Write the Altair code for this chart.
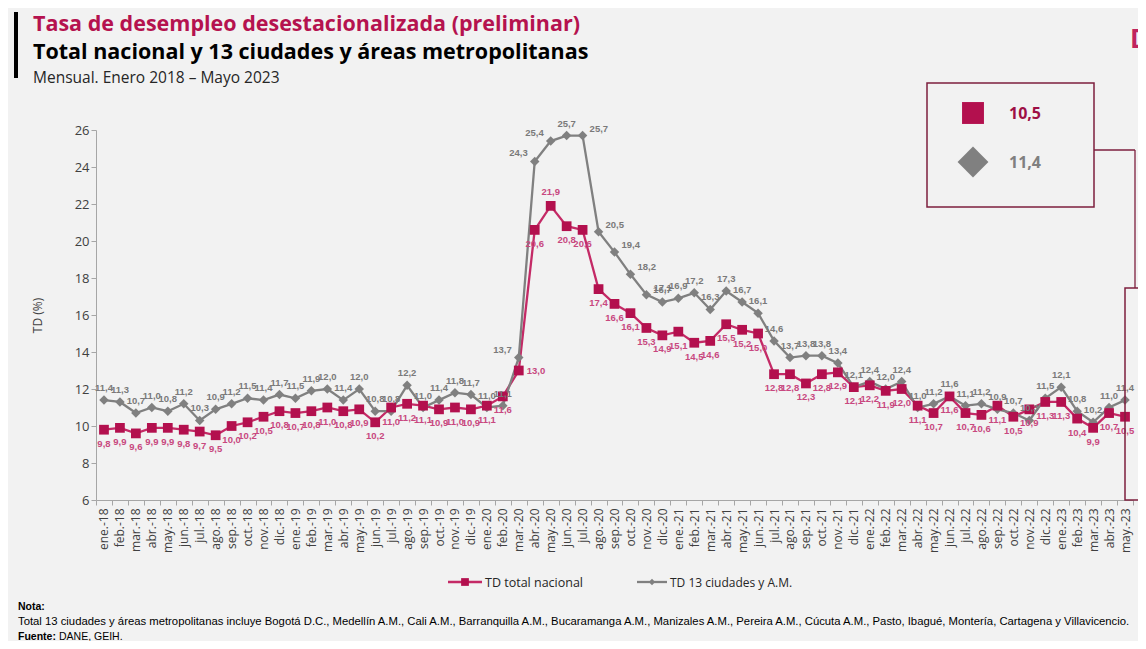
import altair as alt
import pandas as pd

# ---------------- data ----------------
meses = [
    "ene.-18", "feb.-18", "mar.-18", "abr.-18", "may.-18", "jun.-18", "jul.-18", "ago.-18", "sep.-18", "oct.-18", "nov.-18", "dic.-18",
    "ene.-19", "feb.-19", "mar.-19", "abr.-19", "may.-19", "jun.-19", "jul.-19", "ago.-19", "sep.-19", "oct.-19", "nov.-19", "dic.-19",
    "ene.-20", "feb.-20", "mar.-20", "abr.-20", "may.-20", "jun.-20", "jul.-20", "ago.-20", "sep.-20", "oct.-20", "nov.-20", "dic.-20",
    "ene.-21", "feb.-21", "mar.-21", "abr.-21", "may.-21", "jun.-21", "jul.-21", "ago.-21", "sep.-21", "oct.-21", "nov.-21", "dic.-21",
    "ene.-22", "feb.-22", "mar.-22", "abr.-22", "may.-22", "jun.-22", "jul.-22", "ago.-22", "sep.-22", "oct.-22", "nov.-22", "dic.-22",
    "ene.-23", "feb.-23", "mar.-23", "abr.-23", "may.-23",
]

nacional = [
    9.8, 9.9, 9.6, 9.9, 9.9, 9.8, 9.7, 9.5, 10.0, 10.2, 10.5, 10.8,
    10.7, 10.8, 11.0, 10.8, 10.9, 10.2, 11.0, 11.2, 11.1, 10.9, 11.0, 10.9,
    11.1, 11.6, 13.0, 20.6, 21.9, 20.8, 20.6, 17.4, 16.6, 16.1, 15.3, 14.9,
    15.1, 14.5, 14.6, 15.5, 15.2, 15.0, 12.8, 12.8, 12.3, 12.8, 12.9, 12.1,
    12.2, 11.9, 12.0, 11.1, 10.7, 11.6, 10.7, 10.6, 11.1, 10.5, 10.9, 11.3,
    11.3, 10.4, 9.9, 10.7, 10.5,
]

ciudades = [
    11.4, 11.3, 10.7, 11.0, 10.8, 11.2, 10.3, 10.9, 11.2, 11.5, 11.4, 11.7,
    11.5, 11.9, 12.0, 11.4, 12.0, 10.8, 10.8, 12.2, 11.0, 11.4, 11.8, 11.7,
    11.0, 11.1, 13.7, 24.3, 25.4, 25.7, 25.7, 20.5, 19.4, 18.2, 17.1, 16.7,
    16.9, 17.2, 16.3, 17.3, 16.7, 16.1, 14.6, 13.7, 13.8, 13.8, 13.4, 12.1,
    12.4, 12.0, 12.4, 11.0, 11.2, 11.6, 11.1, 11.2, 10.9, 10.7, 10.3, 11.5,
    12.1, 10.8, 10.2, 11.0, 11.4,
]

y_ticks = [6, 8, 10, 12, 14, 16, 18, 20, 22, 24, 26]

series = ["TD total nacional", "TD 13 ciudades y A.M."]
ultimo = ["10,5", "11,4"]

# label placement exceptions (style only)
rojo_arriba = ["may.-20"]
rojo_derecha = ["mar.-20"]
gris_derecha = ["jul.-20", "ago.-20", "sep.-20", "oct.-20", "nov.-20"]
gris_izquierda = ["mar.-20", "abr.-20", "may.-20"]

titulo = "Tasa de desempleo desestacionalizada (preliminar)"
subtitulo = "Total nacional y 13 ciudades y áreas metropolitanas"
periodo = "Mensual. Enero 2018 – Mayo 2023"
nota_t = "Nota"
nota = ("Total 13 ciudades y áreas metropolitanas incluye Bogotá D.C., Medellín A.M., Cali A.M., Barranquilla A.M., "
        "Bucaramanga A.M., Manizales A.M., Pereira A.M., Cúcuta A.M., Pasto, Ibagué, Montería, Cartagena y Villavicencio.")
fuente_t = "Fuente:"
fuente = "DANE, GEIH."

# ---------------- style ----------------
ROJO = "#b3104e"
ROJO_LINEA = "#c42a66"
ROJO_TXT = "#c8487f"
GRIS = "#808080"
GRIS_TXT = "#7a7a7a"
BORDE = "#7d1f3e"
FONT = "Open Sans"
FONT_N = "Liberation Sans"


def fmt(v):
    return f"{v:.1f}".replace(".", ",")


rows = []
for i, m in enumerate(meses):
    pr = "arriba" if m in rojo_arriba else ("derecha" if m in rojo_derecha else "abajo")
    rows.append(dict(mes=m, serie=series[0], valor=nacional[i], etiqueta=fmt(nacional[i]), pos=pr))
    pg = "derecha" if m in gris_derecha else ("izquierda" if m in gris_izquierda else "arriba")
    rows.append(dict(mes=m, serie=series[1], valor=ciudades[i], etiqueta=fmt(ciudades[i]), pos=pg))
df = pd.DataFrame(rows)

W, H = 1037, 370

x_enc = alt.X(
    "mes:N", sort=meses,
    scale=alt.Scale(type="band", paddingInner=0, paddingOuter=0),
    bandPosition=0.5,
    axis=alt.Axis(title=None, labelAngle=-90, tickBand="extent", labelFontSize=12, labelFont=FONT,
                  labelColor="#404040", domainColor="#a6a6a6", tickColor="#a6a6a6", tickSize=5,
                  labelPadding=3, grid=False, labelOverlap=False),
)
y_enc = alt.Y(
    "valor:Q",
    scale=alt.Scale(domain=[6, 26], nice=False, zero=False),
    axis=alt.Axis(values=y_ticks, title="TD (%)", titleFontSize=12, titleFontWeight="normal",
                  titleFont=FONT, titleColor="#404040", titlePadding=30, labelFontSize=13, labelFont=FONT,
                  labelColor="#404040", domainColor="#a6a6a6", tickColor="#a6a6a6", tickSize=5, grid=False,
                  labelOverlap=False, labelFlush=False, labelBound=False),
)
color_enc = alt.Color("serie:N", scale=alt.Scale(domain=series, range=[ROJO_LINEA, GRIS]), legend=None)

base = alt.Chart(df)

lineas = base.mark_line(strokeWidth=2.3).encode(x=x_enc, y=y_enc, color=color_enc)

pts_rojo = base.transform_filter(alt.datum.serie == series[0]).mark_point(
    shape="square", filled=True, size=95, color=ROJO, opacity=1
).encode(x=x_enc, y=y_enc)

pts_gris = base.transform_filter(alt.datum.serie == series[1]).mark_point(
    shape="diamond", filled=True, size=90, color=GRIS, opacity=1
).encode(x=x_enc, y=y_enc)

etq_specs = [
    (series[0], "abajo", 0, 14, "center", ROJO_TXT),
    (series[0], "arriba", 0, -14, "center", ROJO_TXT),
    (series[0], "derecha", 8, 0, "left", ROJO_TXT),
    (series[1], "arriba", 0, -12, "center", GRIS_TXT),
    (series[1], "derecha", 7, -7, "left", GRIS_TXT),
    (series[1], "izquierda", -7, -8, "right", GRIS_TXT),
]
etiquetas = []
for s, p, dx, dy, al, col in etq_specs:
    etiquetas.append(
        base.transform_filter((alt.datum.serie == s) & (alt.datum.pos == p))
        .mark_text(dx=dx, dy=dy, align=al, baseline="middle", fontSize=9.5, fontWeight="bold",
                   font=FONT_N, color=col)
        .encode(x=x_enc, y=y_enc, text="etiqueta:N")
    )

one = pd.DataFrame({"k": [0]})


def txt(text, x, y, size, color, weight="normal", font=FONT, align="left"):
    return alt.Chart(one).mark_text(
        text=text, align=align, baseline="alphabetic", fontSize=size, fontWeight=weight, font=font, color=color
    ).encode(x=alt.value(x), y=alt.value(y))


# header
barra = alt.Chart(one).mark_rule(color="#000000", strokeWidth=4).encode(
    x=alt.value(-80), y=alt.value(-118), y2=alt.value(-52))
t1 = txt(titulo, -63, -99, 21.5, "#b5124f", "bold")
t2 = txt(subtitulo, -63, -71, 21.5, "#000000", "bold")
t3 = txt(periodo, -63, -47, 15.5, "#262626")
logo = txt("D", 1034, -82, 26, "#c0245e", "bold")

# callout
caja = alt.Chart(one).mark_rect(fill="#f2f2f2", fillOpacity=0, stroke=BORDE, strokeWidth=1.5).encode(
    x=alt.value(831), x2=alt.value(998), y=alt.value(-47), y2=alt.value(77))
con_h = alt.Chart(one).mark_rule(color=BORDE, strokeWidth=1.3).encode(
    x=alt.value(998), x2=alt.value(1039), y=alt.value(20))
con_v = alt.Chart(one).mark_rule(color=BORDE, strokeWidth=1.3).encode(
    x=alt.value(1039), y=alt.value(20), y2=alt.value(158))
caja2 = alt.Chart(one).mark_rect(fillOpacity=0, stroke=BORDE, strokeWidth=1.5).encode(
    x=alt.value(1029), x2=alt.value(1080), y=alt.value(158), y2=alt.value(370))
sq = alt.Chart(one).mark_point(shape="square", filled=True, size=480, color=ROJO, opacity=1).encode(
    x=alt.value(877), y=alt.value(-17))
dm = alt.Chart(one).mark_point(shape="diamond", filled=True, size=950, color=GRIS, opacity=1).encode(
    x=alt.value(877), y=alt.value(32))
v1 = txt(ultimo[0], 913, -11, 16, "#9e0f45", "bold")
v2 = txt(ultimo[1], 913, 38, 16, GRIS, "bold")

# legend
lg_r_line = alt.Chart(one).mark_rule(color=ROJO_LINEA, strokeWidth=2.3).encode(
    x=alt.value(352), x2=alt.value(386), y=alt.value(452))
lg_r_pt = alt.Chart(one).mark_point(shape="square", filled=True, size=60, color=ROJO, opacity=1).encode(
    x=alt.value(369), y=alt.value(452))
lg_r_t = txt(series[0], 389, 457, 12.5, "#262626")
lg_g_line = alt.Chart(one).mark_rule(color=GRIS, strokeWidth=2.3).encode(
    x=alt.value(541), x2=alt.value(571), y=alt.value(452))
lg_g_pt = alt.Chart(one).mark_point(shape="diamond", filled=True, size=40, color=GRIS, opacity=1).encode(
    x=alt.value(556), y=alt.value(452))
lg_g_t = txt(series[1], 574, 457, 12, "#262626")

# notes
n1 = txt(nota_t + ":", -78, 480, 10.5, "#000000", "bold", FONT_N)
n2 = txt(nota, -78, 495, 11.3, "#000000", "normal", FONT_N)
n3 = txt(fuente_t, -78, 510, 10.5, "#000000", "bold", FONT_N)
n4 = txt(fuente, -37, 510, 10.5, "#000000", "normal", FONT_N)

chart = alt.layer(
    lineas, pts_gris, pts_rojo, *etiquetas,
    barra, t1, t2, t3, logo,
    caja, con_h, con_v, caja2, sq, dm, v1, v2,
    lg_r_line, lg_r_pt, lg_r_t, lg_g_line, lg_g_pt, lg_g_t,
    n1, n2, n3, n4,
).properties(
    width=W, height=H,
    padding={"left": 88, "top": 122, "right": 5, "bottom": 141},
    autosize=alt.AutoSizeParams(type="none"),
    background="#f2f2f2",
).configure_view(stroke=None).configure_axisY(labelOverlap=False)

chart.save("out.html", embed_options={"renderer": "svg", "actions": False})
